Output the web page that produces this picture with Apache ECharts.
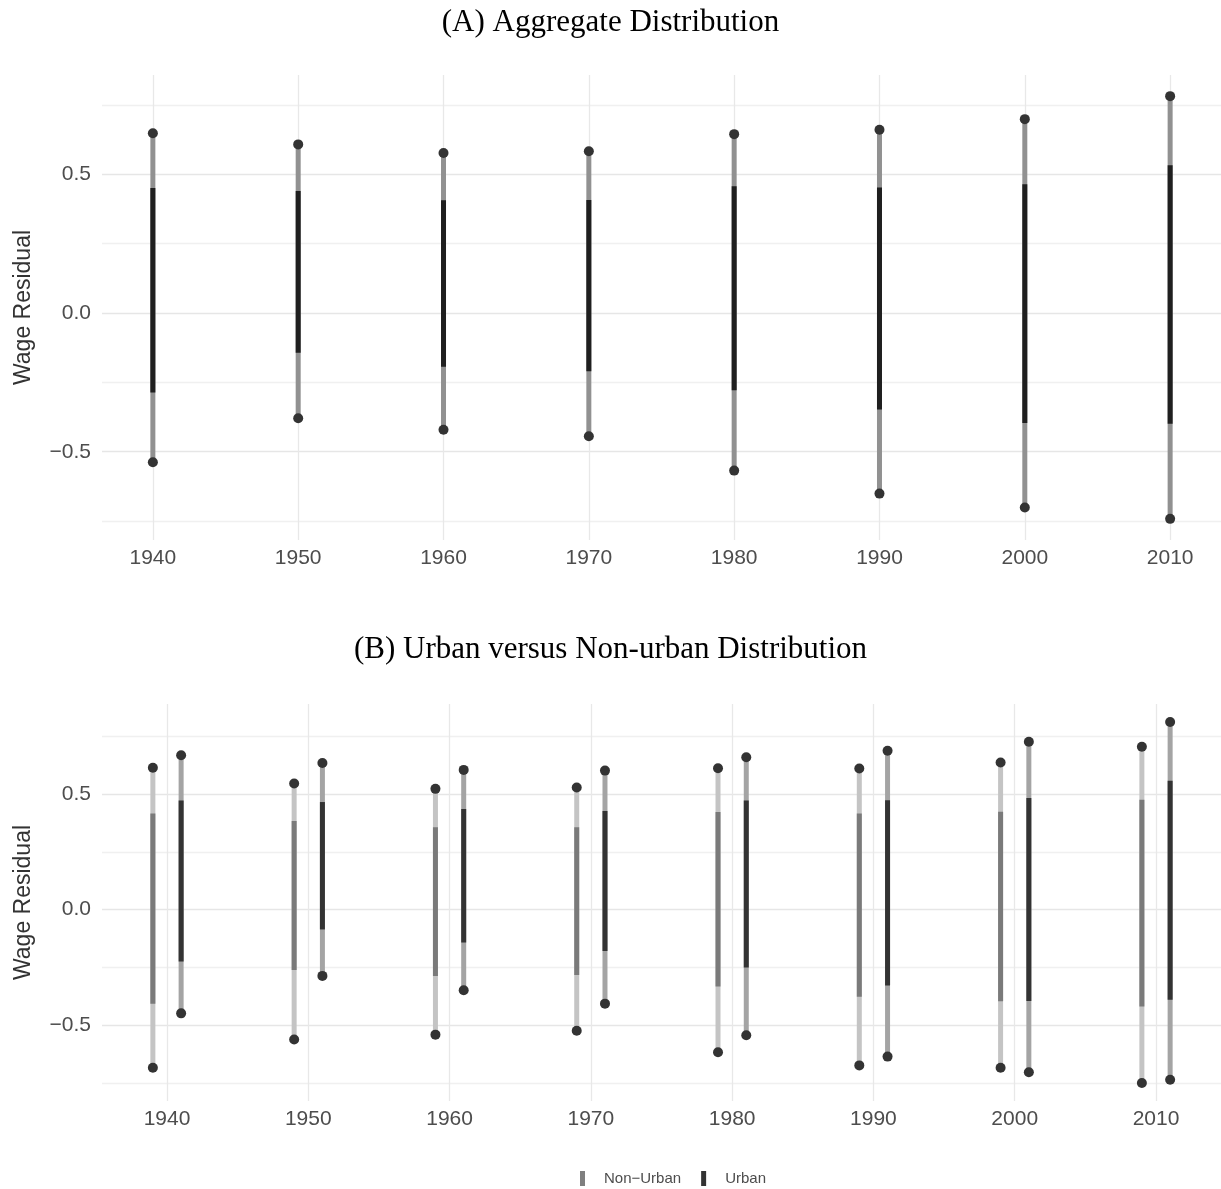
<!DOCTYPE html>
<html>
<head>
<meta charset="utf-8">
<script src="https://cdn.jsdelivr.net/npm/echarts@6/dist/echarts.min.js"></script>
<style>
html, body { margin: 0; padding: 0; background: #fff; }
#chart { width: 1221px; height: 1189px; }
</style>
</head>
<body>
<div id="chart"></div>
<script>
// decades on both panels
var years = [1940, 1950, 1960, 1970, 1980, 1990, 2000, 2010];

// (A) aggregate: extremes (dots) and inner band
var aggMin = [-0.538, -0.379, -0.421, -0.444, -0.568, -0.651, -0.701, -0.742];
var aggLow = [-0.286, -0.143, -0.194, -0.210, -0.278, -0.348, -0.396, -0.399];
var aggHigh = [0.451, 0.440, 0.407, 0.408, 0.457, 0.453, 0.464, 0.533];
var aggMax = [0.648, 0.608, 0.577, 0.583, 0.645, 0.661, 0.699, 0.782];

// (B) non-urban
var ruralMin = [-0.684, -0.562, -0.541, -0.524, -0.617, -0.674, -0.684, -0.750];
var ruralLow = [-0.407, -0.261, -0.287, -0.283, -0.333, -0.377, -0.397, -0.419];
var ruralHigh = [0.415, 0.383, 0.356, 0.356, 0.422, 0.415, 0.423, 0.475];
var ruralMax = [0.613, 0.545, 0.522, 0.528, 0.611, 0.610, 0.636, 0.704];

// (B) urban
var urbanMin = [-0.449, -0.287, -0.349, -0.407, -0.544, -0.636, -0.704, -0.736];
var urbanLow = [-0.225, -0.086, -0.142, -0.179, -0.251, -0.329, -0.395, -0.390];
var urbanHigh = [0.472, 0.465, 0.435, 0.426, 0.472, 0.473, 0.483, 0.557];
var urbanMax = [0.667, 0.634, 0.604, 0.601, 0.659, 0.687, 0.726, 0.811];

var yTicks = [-0.75, -0.5, -0.25, 0, 0.25, 0.5, 0.75];
var yLabels = [-0.5, 0, 0.5];

var DODGE = 1; // years each side in panel B
var FONT = "'Liberation Sans', Arial, sans-serif";
var SERIF = "'Liberation Serif', 'DejaVu Serif', serif";

function expand(lo, hi) {
  var pad = (hi - lo) * 0.05;
  return [lo - pad, hi + pad];
}

function rows(shift, mn, lo, hi, mx) {
  return years.map(function (y, i) { return [y + shift, mn[i], lo[i], hi[i], mx[i]]; });
}

function dots(list) {
  var out = [];
  list.forEach(function (r) { out.push([r[0], r[1]]); out.push([r[0], r[4]]); });
  return out;
}

function rangeRenderer(outer, inner, width) {
  return function (params, api) {
    var x = api.value(0);
    var a = api.coord([x, api.value(1)]);
    var b = api.coord([x, api.value(2)]);
    var c = api.coord([x, api.value(3)]);
    var d = api.coord([x, api.value(4)]);
    return {
      type: 'group',
      children: [
        { type: 'line', shape: { x1: a[0], y1: a[1], x2: d[0], y2: d[1] }, style: { stroke: outer, lineWidth: width } },
        { type: 'line', shape: { x1: b[0], y1: b[1], x2: c[0], y2: c[1] }, style: { stroke: inner, lineWidth: width } }
      ]
    };
  };
}

var aggRows = rows(0, aggMin, aggLow, aggHigh, aggMax);
var ruralRows = rows(-DODGE, ruralMin, ruralLow, ruralHigh, ruralMax);
var urbanRows = rows(DODGE, urbanMin, urbanLow, urbanHigh, urbanMax);

var yA = expand(Math.min.apply(null, aggMin), Math.max.apply(null, aggMax));
var yB = expand(Math.min.apply(null, ruralMin.concat(urbanMin)), Math.max.apply(null, ruralMax.concat(urbanMax)));
var xA = expand(years[0], years[years.length - 1]);
var xB = expand(years[0] - DODGE, years[years.length - 1] + DODGE);

function xAxisCfg(idx, range) {
  return {
    type: 'value', gridIndex: idx, min: range[0], max: range[1],
    axisLine: { show: false },
    axisTick: { show: false, customValues: years },
    axisLabel: {
      customValues: years, fontSize: 21, color: '#4d4d4d', fontFamily: FONT, margin: 8,
      formatter: function (v) { return String(Math.round(v)); }
    },
    splitLine: { show: true, lineStyle: { color: '#e8e8e8', width: 1.3 } }
  };
}

function yAxisCfg(idx, range) {
  return {
    type: 'value', gridIndex: idx, min: range[0], max: range[1],
    name: 'Wage Residual', nameLocation: 'middle', nameGap: 67,
    nameTextStyle: { fontSize: 23, color: '#333', fontFamily: FONT },
    axisLine: { show: false },
    axisTick: { show: false, customValues: yTicks },
    axisLabel: {
      customValues: yLabels, fontSize: 21, color: '#4d4d4d', fontFamily: FONT, margin: 11,
      formatter: function (v) { return v.toFixed(1).replace('-', '\u2212'); }
    },
    splitLine: { show: true, lineStyle: { color: ['#f0f0f0', '#e6e6e6'], width: 1.3 } }
  };
}

var chart = echarts.init(document.getElementById('chart'));
chart.setOption({
  backgroundColor: '#fff',
  animation: false,
  title: [
    { text: '(A) Aggregate Distribution', left: 'center', top: 2,
      textStyle: { fontFamily: SERIF, fontWeight: 'normal', fontSize: 31, color: '#000' } },
    { text: '(B) Urban versus Non-urban Distribution', left: 'center', top: 629,
      textStyle: { fontFamily: SERIF, fontWeight: 'normal', fontSize: 31, color: '#000' } }
  ],
  grid: [
    { left: 102, width: 1120, top: 75, height: 465 },
    { left: 102, width: 1120, top: 704, height: 397 }
  ],
  legend: {
    data: ['Non\u2212Urban', 'Urban'],
    left: 575, top: 1166,
    icon: 'rect', itemWidth: 5, itemHeight: 15, itemGap: 20,
    textStyle: { fontSize: 15, color: '#4d4d4d', fontFamily: FONT, padding: [0, 0, 0, 14] }
  },
  xAxis: [xAxisCfg(0, xA), xAxisCfg(1, xB)],
  yAxis: [yAxisCfg(0, yA), yAxisCfg(1, yB)],
  series: [
    { type: 'custom', name: 'Aggregate', xAxisIndex: 0, yAxisIndex: 0, z: 2,
      renderItem: rangeRenderer('#919191', '#1f1f1f', 5), encode: { x: 0, y: [1, 4] }, data: aggRows },
    { type: 'scatter', xAxisIndex: 0, yAxisIndex: 0, z: 3, symbolSize: 10,
      itemStyle: { color: '#333', opacity: 1 }, data: dots(aggRows) },
    { type: 'custom', name: 'Non\u2212Urban', xAxisIndex: 1, yAxisIndex: 1, z: 2,
      itemStyle: { color: '#7f7f7f' },
      renderItem: rangeRenderer('#c4c4c4', '#7a7a7a', 5), encode: { x: 0, y: [1, 4] }, data: ruralRows },
    { type: 'custom', name: 'Urban', xAxisIndex: 1, yAxisIndex: 1, z: 2,
      itemStyle: { color: '#333' },
      renderItem: rangeRenderer('#a4a4a4', '#333333', 5), encode: { x: 0, y: [1, 4] }, data: urbanRows },
    { type: 'scatter', xAxisIndex: 1, yAxisIndex: 1, z: 3, symbolSize: 10,
      itemStyle: { color: '#333', opacity: 1 }, data: dots(ruralRows).concat(dots(urbanRows)) }
  ]
});
</script>
</body>
</html>
